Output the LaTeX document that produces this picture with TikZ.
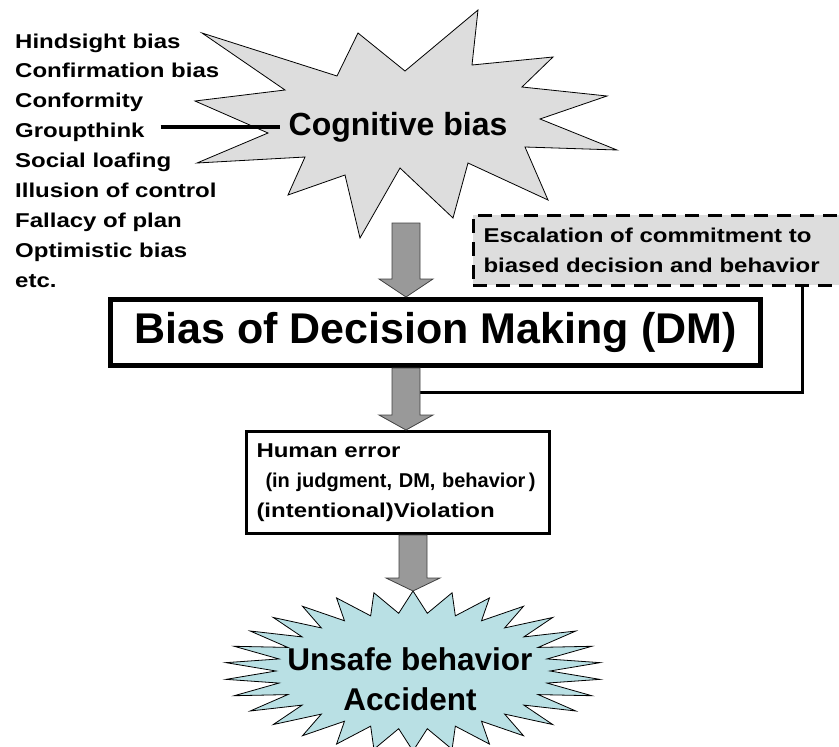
\documentclass[tikz,border=0pt]{standalone}
\usepackage{fontspec}
\setmainfont{Liberation Sans}
\newfontfamily\boldfont{Liberation Sans Bold}
\newfontfamily\wideboldfont[FakeStretch=1.2]{Liberation Sans Bold}
\usetikzlibrary{calc}

\definecolor{burstgray}{HTML}{DDDDDD}
\definecolor{arrowgray}{HTML}{999999}
\definecolor{accblue}{HTML}{B9E0E4}

\tikzset{
  biasitem/.style={anchor=base west, inner sep=0pt, font=\wideboldfont\fontsize{20}{24}\selectfont},
  bursttext/.style={inner sep=8pt, align=center, font=\boldfont\fontsize{32}{40}\selectfont},
  burst/.style={draw=black, line width=0.8pt, line join=miter},
  dmbox/.style={draw, line width=5pt, fill=white, minimum width=650pt, minimum height=66pt, inner sep=0pt, font=\boldfont\fontsize{43}{50}\selectfont},
  escbox/.style={draw, line width=3pt, dash pattern=on 14pt off 9pt, fill=burstgray, anchor=north west, text width=379pt, inner xsep=10.5pt, minimum height=70pt, align=left, font=\wideboldfont\fontsize{20}{30}\selectfont},
  errbox/.style={draw, line width=3pt, fill=white, text width=283pt, inner xsep=10pt, minimum height=102pt, align=left, font=\wideboldfont\fontsize{20}{30}\selectfont},
  fatarrow/.style={fill=arrowgray, draw=black!75, line width=0.8pt, line join=miter},
  groupline/.style={line width=4.5pt},
  feedline/.style={line width=3pt},
}

\newcommand\fatarrow[3]{%
  \filldraw[fatarrow] let \p1=(#1), \p2=(#2) in
    (\x1-14pt,\y1) -- (\x1+14pt,\y1) -- (\x1+14pt,\y2+#3) -- (\x1+27pt,\y2+#3)
    -- (\x1,\y2) -- (\x1-27pt,\y2+#3) -- (\x1-14pt,\y2+#3) -- cycle;}

\begin{document}
\begin{tikzpicture}[x=1pt, y=-1pt]
\useasboundingbox (0,0) rectangle (839,747);

\filldraw[burst, fill=burstgray] (202,33) -- (337,76) -- (358,33) -- (405,71) -- (478,10)
  -- (472,65) -- (553,57) -- (522,87) -- (607,96) -- (540,119) -- (617,150)
  -- (525,147) -- (548,200) -- (468,163) -- (453,218) -- (400,168) -- (360,238)
  -- (345,175) -- (288,195) -- (305,157) -- (197,163) -- (268,133) -- (195,101)
  -- (285,90) -- cycle;
\node[bursttext] (cog) at (398,127) {Cognitive bias};

\foreach \t [count=\i] in {Hindsight bias, Confirmation bias, Conformity, Groupthink,
    Social loafing, Illusion of control, Fallacy of plan, Optimistic bias, etc.}
  \node[biasitem] (b\i) at (15,{18.1+29.9*\i}) {\t};

\draw[groupline] ($(cog.west -| b4.east)+(16,0)$) -- (cog.west);

\node[escbox] (esc) at (471.5,213.5) {Escalation of commitment to\\biased decision and behavior};

\coordinate (cogfoot) at (406,223);
\coordinate (ax) at (406,0);
\coordinate (fb) at (802,392);
\coordinate (accx) at (413,0);
\coordinate (acctop) at (413,591);

\draw[feedline] (esc.south -| fb) |- (ax |- fb);

\node[dmbox] (dm) at (435.5,332.5) {Bias of Decision Making (DM)};
\node[errbox] (err) at (398,482.5) {Human error\\
  \hspace*{9pt}\mbox{\boldfont\fontsize{20}{30}\selectfont(in judgment, DM, behavior\,)}\\
  (intentional)Violation};

\fatarrow{cogfoot}{cogfoot |- dm.north}{18pt}
\fatarrow{ax |- dm.south}{ax |- err.north}{15pt}

\begin{scope}[shift={(413,671)}]
\filldraw[burst, fill=accblue] (90:188 and 80)
  \foreach \a in {96,108,...,444} { -- (\a:137 and 58) -- ({\a+6}:188 and 80) } -- cycle;
\end{scope}
\node[bursttext, font=\boldfont\fontsize{31.5}{40}\selectfont] (acc) at (410,679.5) {Unsafe behavior\\Accident};

\fatarrow{accx |- err.south}{acctop}{13pt}

\end{tikzpicture}
\end{document}
